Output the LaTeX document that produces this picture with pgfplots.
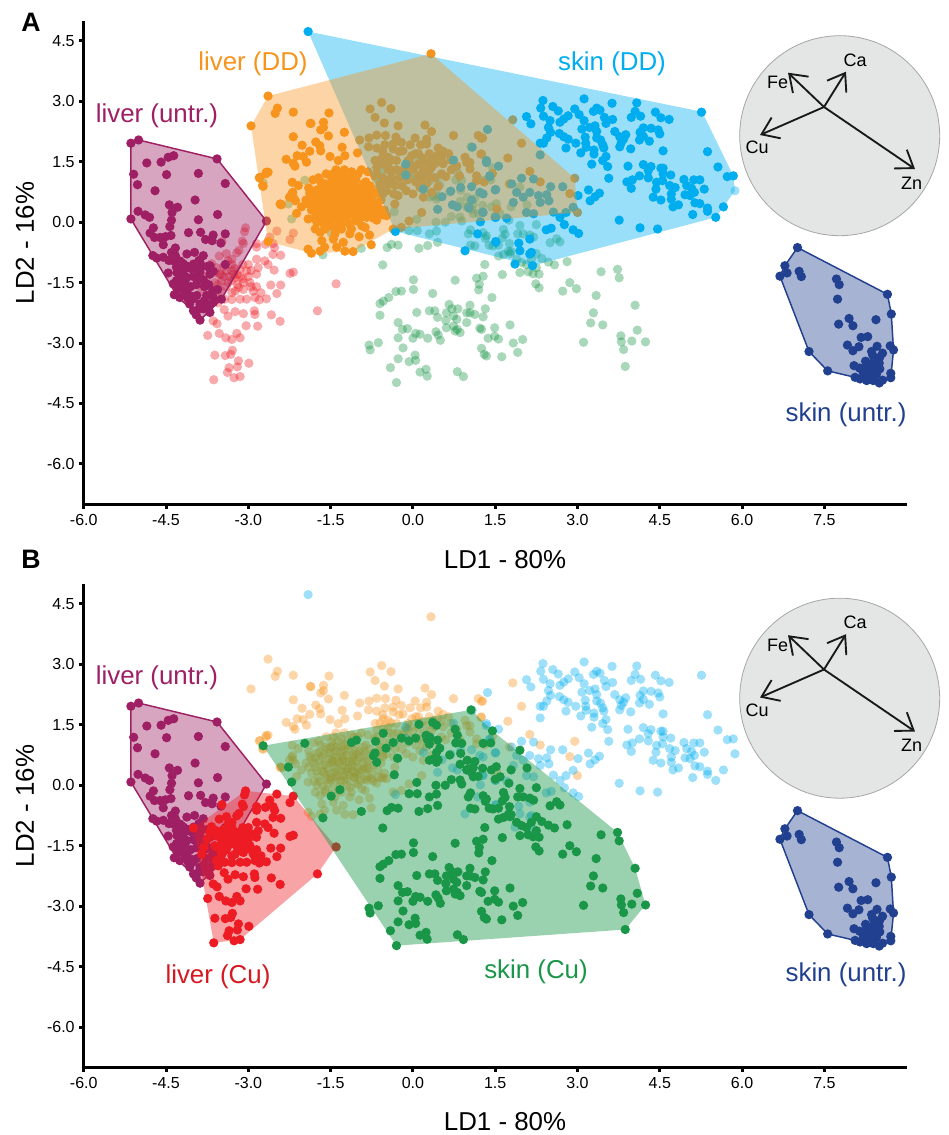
\documentclass[border=0pt]{standalone}
\usepackage{fontspec}
\setmainfont{Liberation Sans}
\usepackage{pgfplots}
\usepackage{pgfplotstable}
\pgfplotsset{compat=1.18}
\usetikzlibrary{arrows.meta}

\definecolor{cpurple}{HTML}{9E1F63}
\definecolor{corange}{HTML}{F7941D}
\definecolor{cblue}{HTML}{00AEEF}
\definecolor{cnavy}{HTML}{21408F}
\definecolor{cred}{HTML}{ED1C24}
\definecolor{cgreen}{HTML}{1A9648}

% liver (untr.)
\pgfplotstableread[row sep=\\]{
x y\\
-5.14 1.96\\ -5.00 2.04\\ -3.57 1.57\\ -4.36 1.65\\ -4.46 1.61\\ -4.59 1.49\\ -4.85 1.47\\ -4.49 1.18\\ -3.91 1.21\\ -5.09 1.19\\
-5.02 .93\\ -3.42 .96\\ -4.70 .78\\ -3.97 .55\\ -4.44 .43\\ -4.29 .37\\ -4.39 .24\\ -4.40 .05\\ -4.43 -.11\\ -5.01 .27\\
-4.88 .18\\ -4.80 .12\\ -5.14 .08\\ -3.56 .19\\ -3.91 .06\\ -2.67 .03\\ -4.73 -.14\\ -4.79 -.27\\ -4.71 -.38\\ -4.61 -.38\\
-4.51 -.36\\ -4.41 -.33\\ -4.09 -.26\\ -3.87 -.25\\ -3.42 -.29\\ -3.64 -.32\\ -3.78 -.43\\ -3.66 -.46\\ -3.50 -.52\\ -4.55 -.56\\
-4.33 -.64\\ -4.40 -.75\\ -4.74 -.83\\ -4.67 -.89\\ -4.55 -.87\\ -4.33 -.83\\ -4.12 -.79\\ -3.98 -.75\\ -3.82 -.83\\ -4.37 -.96\\
-4.25 -.96\\ -4.18 -1.04\\ -4.00 -1.04\\ -3.88 -1.00\\ -3.70 -1.08\\ -3.42 -1.05\\ -4.31 -1.12\\ -4.46 -1.26\\ -4.18 -1.20\\ -3.88 -1.24\\
-3.70 -1.29\\ -3.64 -1.22\\ -4.12 -1.37\\ -3.82 -1.43\\ -4.31 -1.45\\ -4.28 -1.66\\ -4.12 -1.70\\ -3.56 -1.67\\ -4.25 -1.87\\ -4.07 -1.82\\
-3.94 -1.82\\ -3.76 -1.82\\ -3.64 -1.87\\ -3.49 -1.91\\ -3.88 -2.03\\ -4.07 -2.03\\ -4.00 -2.20\\ -3.82 -2.15\\ -3.70 -2.24\\ -3.88 -2.43\\
-3.64 -1.99\\ -4.15 -1.74\\ -4.37 -1.53\\ -4.05 -1.15\\ -3.95 -1.55\\ -3.75 -1.10\\ -4.20 -1.55\\ -4.00 -1.90\\ -3.90 -2.15\\ -3.78 -2.05\\
-4.00 -1.35\\ -3.85 -1.10\\ -4.45 -.95\\ -3.72 -1.55\\ -4.30 -1.25\\ -4.22 -1.00\\ -4.10 -1.10\\ -4.15 -1.45\\ -4.05 -1.60\\ -3.90 -1.40\\
-3.95 -1.15\\ -3.80 -1.60\\ -3.65 -1.70\\ -4.25 -1.35\\ -4.10 -1.90\\ -3.80 -1.95\\ -3.95 -2.30\\ -3.72 -2.10\\ -4.35 -1.80\\ -3.90 -.95\\
}\liveruntr

% liver (Cu)
\pgfplotstableread[row sep=\\]{
x y\\
-3.63 -3.91\\ -4.00 -1.06\\ -3.05 -.14\\ -3.07 -.24\\ -2.48 -.22\\ -2.18 -.27\\ -2.24 -.43\\ -2.61 -.37\\ -2.55 -.53\\ -2.85 -.53\\
-2.69 -.55\\ -2.85 -.62\\ -3.11 -.47\\ -3.09 -.53\\ -3.48 -.48\\ -3.17 -.70\\ -3.21 -.76\\ -3.53 -.84\\ -3.40 -.78\\ -3.30 -.92\\
-2.52 -.63\\ -2.55 -.80\\ -2.41 -.82\\ -2.85 -.92\\ -2.70 -.96\\ -2.64 -1.05\\ -3.37 -.96\\ -3.67 -1.03\\ -3.70 -1.17\\ -3.75 -1.34\\
-3.81 -1.54\\ -3.85 -1.71\\ -3.58 -1.13\\ -3.52 -1.29\\ -3.40 -1.21\\ -3.27 -1.29\\ -3.15 -1.17\\ -3.03 -1.21\\ -2.82 -1.13\\ -2.85 -1.29\\
-2.53 -1.19\\ -2.24 -1.27\\ -2.18 -1.24\\ -3.61 -1.50\\ -3.49 -1.46\\ -3.37 -1.50\\ -3.24 -1.38\\ -3.09 -1.50\\ -2.97 -1.50\\ -3.49 -1.71\\
-3.24 -1.71\\ -3.09 -1.67\\ -2.91 -1.71\\ -2.77 -1.75\\ -2.59 -1.56\\ -2.41 -1.56\\ -2.48 -1.77\\ -3.58 -1.87\\ -3.43 -1.91\\ -3.30 -1.92\\
-3.15 -1.91\\ -3.03 -1.91\\ -2.88 -1.87\\ -2.80 -1.93\\ -2.67 -1.90\\ -3.55 -2.00\\ -3.44 -2.17\\ -3.37 -2.33\\ -3.24 -2.22\\ -3.09 -2.27\\
-2.89 -2.20\\ -2.88 -2.29\\ -3.64 -2.45\\ -3.57 -2.52\\ -3.04 -2.57\\ -2.83 -2.58\\ -2.58 -2.30\\ -2.42 -2.46\\ -1.74 -2.20\\ -1.40 -1.53\\
-3.74 -2.81\\ -3.53 -2.76\\ -3.41 -2.87\\ -3.30 -2.91\\ -3.21 -2.76\\ -3.15 -2.87\\ -3.29 -3.18\\ -3.32 -3.28\\ -3.61 -3.30\\ -3.42 -3.31\\
-2.99 -3.50\\ -3.18 -3.44\\ -3.20 -3.59\\ -3.35 -3.61\\ -3.38 -3.73\\ -3.26 -3.86\\ -3.15 -3.83\\ -3.30 -1.05\\ -3.45 -1.10\\ -3.15 -1.35\\
-3.00 -1.35\\ -3.35 -1.35\\ -3.20 -1.55\\ -3.50 -1.30\\ -2.95 -1.60\\ -3.10 -1.05\\ -3.25 -1.15\\ -3.60 -1.25\\ -2.95 -1.20\\ -3.40 -1.60\\
-3.30 -1.20\\ -3.45 -1.35\\ -3.20 -1.30\\ -3.10 -1.40\\ -3.30 -1.45\\ -3.00 -1.05\\ -3.18 -1.62\\ -3.55 -1.55\\ -3.30 -1.75\\ -2.85 -1.60\\
}\livercu

% skin (Cu)
\pgfplotstableread[row sep=\\]{
x y\\
-2.73 .98\\ -1.97 1.04\\ -1.12 1.06\\ -1.03 1.12\\ -.68 1.09\\ -.54 1.29\\ -.36 1.06\\ -.49 .92\\ -.69 .80\\ -.72 .73\\
-.66 .57\\ -.28 .67\\ -2.27 .45\\ -2.21 .08\\ -.34 .26\\ -1.33 -.11\\ -1.49 -.27\\ -1.64 -.81\\ -.94 -.65\\ -.39 -.55\\
-.47 -.63\\ -.27 -.57\\ -.55 -1.06\\ -.31 -1.72\\ -.44 -1.87\\ -.54 -1.96\\ -.60 -2.02\\ -.60 -2.31\\ -.27 -2.49\\ -.27 -2.87\\
-.63 -2.99\\ -.80 -3.05\\ -.78 -3.17\\ -.27 -3.39\\ -.41 -3.61\\ -.30 -3.98\\ 1.06 1.87\\ 1.45 1.35\\ .36 1.56\\ .43 1.49\\
.11 1.51\\ .77 1.39\\ .81 1.24\\ -.21 1.17\\ -.07 1.10\\ .05 1.17\\ .24 1.24\\ .31 1.19\\ .26 1.14\\ .45 1.12\\
.30 1.02\\ .78 1.05\\ .89 1.04\\ 1.28 1.04\\ 1.42 1.05\\ 1.95 .87\\ 2.08 .43\\ .49 .92\\ .43 .81\\ .67 .75\\
.87 .79\\ .30 .62\\ .37 .65\\ .46 .63\\ .43 .57\\ .86 .52\\ .99 .62\\ 1.13 .59\\ 1.27 .42\\ .98 .38\\
1.07 .32\\ 1.10 .21\\ 1.19 .22\\ 1.43 .38\\ 1.52 .46\\ 1.59 .21\\ 1.50 .15\\ 1.79 .38\\ .70 .14\\ .86 .13\\
.89 .03\\ .07 .07\\ .42 .00\\ .59 .00\\ 1.75 .05\\ 2.25 -.06\\ 1.95 -.08\\ 1.91 -.29\\ 2.01 -.29\\ 2.13 -.32\\
2.20 -.37\\ 1.65 -.18\\ 1.68 -.30\\ 1.63 -.39\\ 2.50 -.51\\ 2.62 -.41\\ 2.68 -.49\\ -.07 -.21\\ .08 -.21\\ .43 -.22\\
.30 -.29\\ 1.05 -.19\\ 1.01 -.29\\ 1.28 -.26\\ 1.34 -.34\\ 1.32 -.40\\ .45 -.50\\ .27 -.58\\ .11 -.65\\ 1.05 -.57\\
1.13 -.59\\ 1.39 -.57\\ 1.46 -.59\\ 1.56 -.57\\ 1.76 -.53\\ 1.74 -.72\\ 1.79 -.73\\ 1.56 -.84\\ 1.65 -.80\\ 1.77 -.78\\
1.89 -.92\\ 1.98 -1.00\\ 2.07 -1.05\\ 2.16 -.92\\ 2.25 -.78\\ 2.35 -.90\\ 2.47 -.99\\ 2.58 -1.06\\ 2.81 -.98\\ 3.43 -1.23\\
3.73 -1.17\\ 3.76 -1.38\\ 2.86 -1.50\\ 2.73 -1.71\\ 2.98 -1.65\\ 3.34 -1.82\\ 4.05 -2.06\\ 3.29 -2.25\\ 3.24 -2.50\\ 3.46 -2.55\\
4.09 -2.68\\ 4.24 -2.97\\ 3.99 -2.95\\ 3.79 -2.82\\ 3.80 -2.97\\ 3.84 -3.16\\ 3.11 -2.98\\ 3.87 -3.58\\ 1.95 -1.25\\ 2.10 -1.23\\
2.25 -1.13\\ 2.19 -1.28\\ 2.30 -1.29\\ 1.31 -1.05\\ 1.28 -1.34\\ 1.16 -1.39\\ 1.21 -1.54\\ 1.20 -1.68\\ 1.63 -1.30\\ 2.24 -1.53\\
2.30 -1.63\\ .77 -1.44\\ .01 -1.43\\ .01 -1.67\\ -.21 -1.71\\ .36 -1.77\\ 1.44 -1.87\\ .07 -2.24\\ .30 -2.20\\ .40 -2.20\\
.45 -2.36\\ .61 -2.25\\ .66 -2.04\\ .71 -2.15\\ .82 -2.15\\ .74 -2.33\\ .80 -2.41\\ .60 -2.44\\ .61 -2.62\\ .74 -2.58\\
.81 -2.66\\ .86 -2.74\\ .77 -2.70\\ .98 -2.49\\ .98 -2.25\\ 1.04 -2.06\\ 1.04 -2.25\\ 1.13 -2.29\\ 1.32 -2.15\\ 1.28 -2.35\\
1.22 -2.63\\ 1.25 -2.66\\ 1.49 -2.62\\ 1.77 -2.55\\ 1.37 -2.88\\ 1.49 -2.83\\ 1.56 -2.90\\ 2.00 -2.91\\ 1.83 -3.00\\ 1.91 -3.23\\
1.62 -3.34\\ 1.25 -3.13\\ 1.30 -3.28\\ 1.34 -3.32\\ .42 -2.72\\ .46 -2.80\\ .50 -2.93\\ .27 -2.88\\ .13 -2.78\\ .05 -2.76\\
.00 -2.88\\ -.10 -2.64\\ -.19 -2.66\\ -.18 -3.12\\ .04 -3.30\\ .05 -3.43\\ -.07 -3.46\\ .24 -3.65\\ .13 -3.72\\ .26 -3.82\\
.81 -3.71\\ .92 -3.83\\ 1.10 .44\\ 1.01 .40\\
}\skincu

% liver (DD)
\pgfplotstableread[row sep=\\]{
x y\\
.33 4.18\\ -2.64 3.13\\ -2.47 2.83\\ -2.51 2.70\\ -2.18 2.73\\ -1.53 2.71\\ -1.87 2.45\\ -1.63 2.48\\ -1.63 2.35\\ -1.68 2.29\\
-1.54 2.14\\ -2.18 2.12\\ -1.25 2.23\\ -2.02 1.91\\ -1.77 1.99\\ -1.70 1.90\\ -1.68 1.77\\ -1.88 1.76\\ -2.11 1.65\\ -2.00 1.63\\
-2.31 1.56\\ -2.18 1.46\\ -2.15 1.39\\ -1.94 1.49\\ -1.29 1.86\\ -1.51 1.63\\ -1.24 1.65\\ -1.36 1.53\\ -1.01 1.72\\ -2.64 1.24\\
-2.68 1.20\\ -2.74 .91\\ -2.79 1.11\\ -2.41 .45\\ -2.20 .99\\ -2.21 .70\\ -2.18 .62\\ -2.25 .62\\ -2.12 .22\\ -2.03 .38\\
-2.95 2.39\\ -1.86 2.45\\ -2.80 1.10\\ -2.73 .89\\ -2.67 1.24\\ -2.40 .43\\ -2.64 -.48\\
-1.91 -.67\\ -1.85 -.77\\ -1.69 -.72\\ -1.61 -.62\\ -1.39 -.62\\ -1.24 -.72\\ -1.09 -.73\\ -1.27 -.50\\ -.76 -.56\\ -.79 -.32\\
-.98 -.36\\ -1.15 -.29\\ -1.12 -.17\\ -.93 -.09\\ -.87 -.13\\ -1.45 -.42\\ -1.66 -.46\\ -1.78 -.17\\ -1.69 -.25\\ -1.60 -.17\\
-1.42 -.29\\ -1.30 -.17\\ -1.91 .08\\ -2.42 .45\\ -2.19 .74\\ -2.14 .53\\ -2.09 .91\\ -.54 .18\\ -.63 .20\\ -.75 .16\\
-.84 .12\\ -1.06 .20\\
-1.95 .55\\ -1.90 .85\\ -1.85 .30\\ -1.85 .65\\ -1.82 1.05\\ -1.80 .10\\ -1.78 .45\\ -1.75 .80\\ -1.72 .20\\ -1.70 .62\\
-1.68 1.00\\ -1.66 .35\\ -1.64 -.02\\ -1.62 .78\\ -1.60 .50\\ -1.58 1.20\\ -1.56 .15\\ -1.55 .90\\ -1.53 .65\\ -1.50 .30\\
-1.48 1.08\\ -1.47 -.10\\ -1.45 .78\\ -1.43 .45\\ -1.42 .10\\ -1.40 1.30\\ -1.38 .95\\ -1.37 .60\\ -1.35 .25\\ -1.33 -.02\\
-1.31 .82\\ -1.30 1.15\\ -1.28 .48\\ -1.26 .70\\ -1.25 .12\\ -1.22 1.00\\ -1.20 .33\\ -1.18 .88\\ -1.16 .58\\ -1.15 -.06\\
-1.12 1.25\\ -1.10 .75\\ -1.08 .20\\ -1.06 .45\\ -1.04 1.05\\ -1.02 .62\\ -1.00 .02\\ -.98 .85\\ -.96 .32\\ -.94 1.30\\
-.92 .55\\ -.90 .75\\ -.88 .15\\ -.86 1.00\\ -.84 .42\\ -.80 .62\\ -.78 .90\\ -.76 .28\\ -.72 .50\\ -.70 1.15\\
-.68 .72\\ -.66 .05\\ -.64 .38\\ -.60 .88\\ -.58 .55\\ -.55 .70\\ -.52 .30\\ -1.75 .00\\ -1.60 -.12\\ -1.50 .55\\
-1.40 .70\\ -1.30 .35\\ -1.20 .75\\ -1.10 .60\\ -1.00 .45\\ -1.50 .95\\ -1.30 .95\\ -1.40 .20\\ -1.20 .15\\ -.90 .95\\
-1.62 .32\\ -1.70 .82\\ -1.05 .85\\ -1.25 1.30\\ -1.45 1.20\\ -1.08 1.20\\ -.82 1.25\\
-1.88 .72\\ -1.80 .55\\ -1.75 .35\\ -1.70 .10\\ -1.65 .70\\ -1.60 .95\\ -1.58 .25\\ -1.55 .42\\ -1.52 .80\\ -1.50 .12\\
-1.48 .62\\ -1.45 .98\\ -1.42 .32\\ -1.40 .85\\ -1.38 .40\\ -1.36 1.10\\ -1.34 .55\\ -1.32 .12\\ -1.30 .72\\ -1.27 .22\\
-1.25 .90\\ -1.22 .58\\ -1.20 1.10\\ -1.18 .42\\ -1.15 .25\\ -1.13 .98\\ -1.10 .35\\ -1.08 .68\\ -1.05 .05\\ -1.03 .78\\
-1.00 .25\\ -.97 .68\\ -.95 .12\\ -.92 .38\\ -.88 .82\\ -.85 .60\\ -.82 .22\\ -.80 .42\\ -.75 .78\\ -.72 .10\\
-1.90 .45\\ -1.72 1.10\\ -1.55 .05\\ -1.35 -.12\\ -1.20 .00\\ -1.00 1.20\\ -.88 .42\\ -1.45 .58\\ -1.28 .60\\ -1.12 .50\\
-1.65 .50\\ -1.78 .68\\ -1.48 .20\\ -1.05 .30\\ -1.22 .38\\
-.57 2.97\\ -.78 2.81\\ -.40 2.82\\ -.69 2.60\\ -.52 2.46\\ -.27 2.39\\ .22 2.41\\ .34 2.25\\ .74 2.15\\ 1.19 2.15\\
1.25 2.08\\ -.97 2.04\\ -.80 2.09\\ -.66 2.16\\ -.50 2.15\\ -.31 2.11\\ .04 2.09\\ .25 2.06\\ -.81 1.87\\ -.66 1.84\\
-.51 1.92\\ -.36 1.94\\ -.21 1.98\\ -.05 1.92\\ .14 1.92\\ .25 1.94\\ .46 1.84\\ .55 1.76\\ 1.24 1.69\\ .95 1.61\\
.69 1.54\\ .98 1.48\\ 1.04 1.48\\ .52 1.59\\ .37 1.61\\ .18 1.59\\ -.02 1.65\\ -.18 1.77\\ -.36 1.82\\ -.54 1.65\\
-.69 1.53\\ -.66 1.36\\ -.45 1.61\\ -.30 1.53\\ -.09 1.53\\ .25 1.48\\ .10 1.44\\ .01 1.32\\ .19 1.28\\ .34 1.36\\
1.04 1.32\\ .80 1.39\\ 1.16 1.15\\ 1.16 1.03\\ .52 1.20\\ .60 1.13\\ .31 1.11\\ .10 1.15\\ -.09 1.20\\ -.36 1.28\\
-.54 1.44\\ -.66 1.20\\ -.45 .95\\ -.33 .91\\ -.48 .78\\ -.12 .78\\ -.27 .66\\ .13 .86\\ .46 .89\\ .19 .62\\
.34 .74\\ -.33 .45\\ .16 .24\\ -.07 .03\\ -.21 -.13\\ -.36 -.17\\ -.57 .19\\ -.48 .16\\ -.45 1.30\\ -.20 1.25\\
-.10 1.40\\ .40 1.45\\ .05 1.70\\ -.15 1.35\\ -.55 1.10\\ -.60 .95\\ -.25 1.10\\ .28 1.25\\
-.55 1.75\\ -.40 1.55\\ -.25 1.75\\ -.05 1.45\\ .10 1.70\\ .30 1.70\\ -.45 1.45\\ -.30 1.30\\ -.10 1.05\\ .05 1.00\\
.25 .95\\ .40 1.10\\ .55 1.45\\ .70 1.30\\ .85 1.15\\ -.40 1.10\\ -.20 .90\\ .00 .70\\ -.55 .75\\ .65 1.70\\
-.35 .70\\ -.60 1.55\\ .45 1.65\\ .20 1.05\\
1.82 2.54\\ 1.27 2.09\\ 1.98 1.96\\ 1.73 1.59\\ 1.25 1.69\\ 2.13 1.26\\ 2.32 1.00\\ 1.30 1.00\\ 1.76 .95\\ 2.95 1.09\\
2.86 .71\\ 3.00 .24\\ 1.45 1.21\\ 1.53 .33\\
}\liverdd

% skin (DD)
\pgfplotstableread[row sep=\\]{
x y\\
-1.91 4.73\\ 5.26 2.73\\ 3.12 3.06\\ 3.63 2.95\\ 4.08 2.96\\ 4.42 2.73\\ 4.52 2.59\\ 4.67 2.55\\ 4.05 2.75\\ 4.15 2.63\\
3.98 2.60\\ 2.37 3.02\\ 2.33 2.83\\ 2.55 2.87\\ 2.65 2.76\\ 2.07 2.62\\ 2.15 2.44\\ 2.38 2.63\\ 2.50 2.52\\ 2.68 2.48\\
2.75 2.56\\ 2.83 2.64\\ 2.95 2.81\\ 3.03 2.67\\ 3.29 2.75\\ 3.35 2.83\\ 3.41 2.78\\ 3.49 2.60\\ 3.52 2.45\\ 3.64 2.55\\
3.12 2.52\\ 3.08 2.31\\ 3.22 2.35\\ 3.32 2.39\\ 3.35 2.25\\ 2.47 2.35\\ 2.51 2.23\\ 2.44 2.09\\ 2.38 1.96\\ 2.32 1.96\\
2.67 2.20\\ 2.75 2.12\\ 2.83 2.06\\ 3.14 2.11\\ 3.15 1.96\\ 3.16 1.86\\ 2.97 1.96\\ 2.79 1.84\\ 3.06 1.72\\ 3.30 1.79\\
3.30 1.69\\ 3.35 2.09\\ 3.42 2.04\\ 3.46 1.92\\ 3.48 1.84\\ 3.68 2.25\\ 3.77 2.12\\ 3.88 2.17\\ 3.84 2.06\\ 3.80 1.98\\
3.77 1.87\\ 3.97 1.82\\ 4.20 2.34\\ 4.14 2.23\\ 4.20 2.13\\ 4.34 2.33\\ 4.47 2.29\\ 4.50 2.19\\ 4.13 2.04\\ 4.31 2.01\\
4.56 1.77\\ 5.37 1.75\\ 5.56 1.37\\ 5.73 1.13\\ 5.84 1.15\\ 3.26 1.44\\ 3.52 1.63\\ 3.46 1.53\\ 3.55 1.38\\ 3.57 1.09\\
3.92 1.39\\ 4.20 1.43\\ 4.34 1.38\\ 4.29 1.28\\ 4.52 1.34\\ 4.56 1.34\\ 4.56 1.20\\ 4.70 1.17\\ 4.13 1.15\\ 4.00 1.05\\
3.90 1.00\\ 4.29 1.10\\ 4.44 .99\\ 4.55 1.03\\ 3.98 .84\\ 4.43 .82\\ 4.38 .62\\ 4.52 .55\\ 4.68 .91\\ 4.78 .86\\
4.71 .70\\ 4.71 .57\\ 4.74 .38\\ 4.84 .43\\ 4.94 1.06\\ 4.99 .91\\ 5.12 1.05\\ 5.23 1.05\\ 5.08 .84\\ 5.13 .74\\
5.31 .82\\ 4.96 .68\\ 5.05 .66\\ 5.14 .48\\ 5.23 .46\\ 5.37 .35\\ 5.37 .27\\ 5.66 .38\\ 5.52 .12\\ 5.10 .19\\
3.20 .80\\ 3.40 .72\\ 3.32 .63\\ 3.23 .53\\ 3.01 .66\\ 3.76 .05\\ 4.14 -.14\\ 4.46 -.17\\ 2.76 -.06\\ 2.92 -.19\\
3.02 -.28\\ 2.43 -.19\\ 2.52 -.15\\ 2.13 -.42\\ 1.93 -.52\\ 1.95 -.71\\ 2.13 -.79\\ 2.16 -.75\\ 1.51 -.48\\ 1.86 -1.04\\
2.18 -1.08\\ 1.36 2.30\\ 2.32 1.67\\ 1.34 1.48\\ 1.56 1.39\\ 1.40 1.15\\ 1.50 .80\\ 1.80 .95\\ 1.98 1.09\\ 2.20 1.07\\
2.51 .88\\ 2.73 .88\\ 1.89 .74\\ 2.01 .62\\ 1.83 .49\\ 2.13 .74\\ 2.29 .66\\ 2.44 .68\\ 2.48 .53\\ 2.32 .49\\
2.07 .24\\ 2.20 .21\\ 2.56 .25\\ 2.79 .24\\ 2.92 .37\\ 2.68 .12\\ 1.50 .12\\ 1.28 .24\\ 1.71 .10\\ 1.08 1.86\\
-.13 1.44\\ -.13 1.17\\ .19 .82\\ .53 .63\\ .69 .77\\ .87 .86\\ 1.07 .88\\ 1.22 .74\\ 1.28 .70\\ .74 1.54\\
1.34 1.53\\ 1.40 1.13\\ 1.51 .81\\ .45 .32\\ .72 .43\\ .81 .38\\ 1.02 .35\\ 1.07 .55\\ 1.27 .25\\ 1.23 .01\\
1.51 .12\\ -.32 -.23\\ 1.18 -.29\\ 1.51 -.50\\ .95 -.71\\
}\skindd

% skin (untr.)
\pgfplotstableread[row sep=\\]{
x y\\
7.01 -.63\\ 6.78 -1.08\\ 6.69 -1.34\\ 6.82 -1.26\\ 7.04 -1.22\\ 7.08 -1.35\\ 7.72 -1.41\\ 7.77 -1.55\\ 7.74 -1.91\\ 8.65 -1.79\\
8.72 -2.28\\ 8.44 -2.42\\ 7.95 -2.39\\ 7.76 -2.53\\ 8.02 -2.57\\ 8.17 -2.86\\ 8.29 -2.84\\ 7.92 -3.05\\ 8.13 -3.09\\ 8.02 -3.19\\
7.22 -3.21\\ 7.56 -3.69\\ 8.46 -3.08\\ 8.36 -3.21\\ 8.70 -3.07\\ 8.76 -3.17\\ 8.56 -3.25\\ 8.51 -3.35\\ 8.42 -3.40\\ 8.04 -3.56\\
8.14 -3.62\\ 8.33 -3.52\\ 8.45 -3.48\\ 8.51 -3.64\\ 8.71 -3.75\\ 8.71 -3.86\\ 8.56 -3.92\\ 8.50 -3.99\\ 8.06 -3.85\\ 8.15 -3.89\\
8.27 -3.93\\ 8.39 -3.93\\ 8.24 -3.77\\ 8.36 -3.77\\ 8.30 -3.64\\ 8.39 -3.60\\ 8.27 -3.56\\ 8.45 -3.77\\ 8.21 -3.85\\
8.35 -3.68\\ 8.30 -3.80\\ 8.20 -3.70\\ 8.40 -3.85\\ 8.45 -3.60\\ 8.25 -3.45\\ 8.38 -3.30\\ 8.50 -3.50\\
}\skinuntr

\pgfplotsset{
  panel/.style={
    scale only axis, width=617.2pt, height=362.7pt, anchor=south west,
    xmin=-6, xmax=9, ymin=-7, ymax=5,
    clip mode=individual,
    axis x line=bottom, axis y line=left,
    axis line style={-, line width=2.25pt},
    tick style={black, line width=2.25pt},
    tick align=outside, major tick length=3.3pt,
    xtick={-6,-4.5,-3,-1.5,0,1.5,3,4.5,6,7.5},
    xticklabels={-6.0,-4.5,-3.0,-1.5,0.0,1.5,3.0,4.5,6.0,7.5},
    ytick={-6,-4.5,-3,-1.5,0,1.5,3,4.5},
    yticklabels={-6.0,-4.5,-3.0,-1.5,0.0,1.5,3.0,4.5},
    tick label style={font=\fontsize{12}{14}\selectfont},
    xticklabel style={yshift=-1pt},
  },
  dots/.style={only marks, mark=*, mark size=3.5pt, mark options={draw opacity=0, fill=#1}},
  pale/.style={only marks, mark=*, mark size=3.5pt, mark options={draw opacity=0, fill=#1, fill opacity=.38}},
  hull/.style={fill=#1, fill opacity=.4, draw=none},
  hulledge/.style={fill=#1, fill opacity=.4, draw=#1, line width=1.1pt},
}

\newcommand{\polyorange}{(-2.95,2.39) (-2.64,3.13) (.33,4.18) (2.95,1.09) (3.0,.24) (-.36,-.17) (-1.09,-.73) (-1.85,-.77) (-2.64,-.48)}
\newcommand{\polyblue}{(-1.91,4.73) (5.27,2.74) (5.84,1.15) (5.87,.78) (5.52,.12) (2.18,-1.08) (-.32,-.23)}
\newcommand{\polypurple}{(-5.14,1.96) (-5.0,2.04) (-3.57,1.57) (-2.67,.03) (-3.49,-1.91) (-3.88,-2.43) (-4.0,-2.2) (-4.28,-1.87) (-5.14,.08)}
\newcommand{\polynavy}{(7.01,-.63) (8.65,-1.79) (8.72,-2.28) (8.76,-3.17) (8.71,-3.86) (8.50,-3.99) (8.06,-3.85) (7.56,-3.69) (7.22,-3.21) (6.69,-1.34) (6.78,-1.08)}

% everything in these scopes is in reference pixels, y down
\definecolor{cdisc}{HTML}{E4E5E5}
\newcommand{\inset}[1]{%
  \begin{scope}[x=0.75pt, y=-0.75pt, yshift=-#1*0.75pt]
    \fill[fill=cdisc, draw=black!35, line width=.6pt] (839.7,135.7) circle[radius=75pt];
    \foreach \tx/\ty in {788/72.7, 846/71.7, 760/135, 915/169}
      \draw[line width=1.4pt, black!90, -{Straight Barb[length=12pt, width=17pt, line width=1.4pt]}] (824,107) -- (\tx,\ty);
    \node[font=\fontsize{13.5}{15}\selectfont] at (777.7,82.7) {Fe};
    \node[font=\fontsize{13.5}{15}\selectfont] at (855,60) {Ca};
    \node[font=\fontsize{13.5}{15}\selectfont] at (757,147.7) {Cu};
    \node[font=\fontsize{13.5}{15}\selectfont] at (911.7,183) {Zn};
  \end{scope}}
\newcommand{\lab}[4][black]{\node[text=#1, font=\fontsize{19.4}{22}\selectfont] at (#2,#3) {#4};}

\begin{document}
\begin{tikzpicture}
\path[use as bounding box] (0,0) rectangle (711.75pt,-851.25pt);

% panel A
\begin{axis}[panel, at={(62.8pt,-378.2pt)}]
\addplot[pale=cred] table[x=x,y=y] {\livercu};
\addplot[pale=cgreen] table[x=x,y=y] {\skincu};
\addplot[hulledge=cpurple] coordinates {\polypurple} -- cycle;
\addplot[dots=cpurple] table[x=x,y=y] {\liveruntr};
\addplot[dots=corange] table[x=x,y=y] {\liverdd};
\addplot[hull=cblue] coordinates {\polyblue} -- cycle;
\addplot[dots=cblue] table[x=x,y=y] {\skindd};
\addplot[pale=cblue] coordinates {(5.87,.78)};
\addplot[hull=corange] coordinates {\polyorange} -- cycle;
\addplot[hulledge=cnavy] coordinates {\polynavy} -- cycle;
\addplot[dots=cnavy] table[x=x,y=y] {\skinuntr};
\end{axis}

% panel B
\begin{axis}[panel, at={(62.8pt,-800.5pt)}]
\addplot[pale=corange] table[x=x,y=y] {\liverdd};
\addplot[pale=cblue] table[x=x,y=y] {\skindd};
\addplot[pale=cblue] coordinates {(5.87,.78)};
\addplot[hulledge=cpurple] coordinates {\polypurple} -- cycle;
\addplot[dots=cpurple] table[x=x,y=y] {\liveruntr};
\addplot[hull=cred] coordinates {(-3.63,-3.91) (-4.0,-1.06) (-3.05,-.14) (-2.18,-.27) (-1.40,-1.53) (-1.74,-2.20) (-3.15,-3.83)} -- cycle;
\addplot[dots=cred] table[x=x,y=y] {\livercu};
\addplot[fill=cgreen, fill opacity=.44, draw=none] coordinates {(-2.73,.98) (1.06,1.87) (1.45,1.35) (3.73,-1.17) (4.05,-2.06) (4.24,-2.97) (3.87,-3.58) (-.30,-3.98)} -- cycle;
\addplot[dots=cgreen] table[x=x,y=y] {\skincu};
\addplot[hulledge=cnavy] coordinates {\polynavy} -- cycle;
\addplot[dots=cnavy] table[x=x,y=y] {\skinuntr};
\end{axis}

\inset{0}
\inset{562.5}

\begin{scope}[x=0.75pt, y=-0.75pt]
\node[font=\fontsize{20}{22}\bfseries\selectfont] at (31,22) {A};
\node[font=\fontsize{20}{22}\bfseries\selectfont] at (31,559) {B};
\node[font=\fontsize{19.4}{22}\selectfont, rotate=90] at (25,243) {LD2 - 16\%};
\node[font=\fontsize{19.4}{22}\selectfont, rotate=90] at (25,806) {LD2 - 16\%};
\lab{505}{560}{LD1 - 80\%}
\lab{505}{1122}{LD1 - 80\%}
\lab[corange]{253}{63.5}{liver (DD)}
\lab[cblue]{612}{63.5}{skin (DD)}
\lab[cpurple]{157}{115.5}{liver (untr.)}
\lab[cnavy]{846}{414.5}{skin (untr.)}
\lab[cpurple]{157}{677.5}{liver (untr.)}
\lab[cnavy]{846}{974.5}{skin (untr.)}
\lab[cred!90!black]{218}{976.5}{liver (Cu)}
\lab[cgreen]{536}{971.5}{skin (Cu)}
\end{scope}
\end{tikzpicture}
\end{document}
